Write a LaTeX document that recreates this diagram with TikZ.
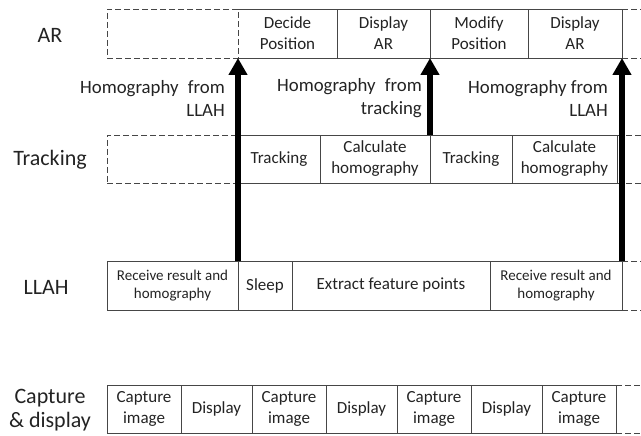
\documentclass[tikz,border=0pt]{standalone}
\usepackage{fontspec}
\setmainfont{Carlito}
\usetikzlibrary{arrows.meta}
\definecolor{linec}{RGB}{70,70,70}
\definecolor{textc}{RGB}{35,35,35}
\begin{document}
\begin{tikzpicture}[x=1pt,y=-1pt,
  cell/.style={draw=linec, line width=0.8pt, inner sep=0pt, outer sep=0pt, align=center, text=textc, font=\fontsize{17}{21}\selectfont},
  smallcell/.style={cell, font=\fontsize{15}{18}\selectfont},
  dashbox/.style={cell, dash pattern=on 6pt off 3pt},
  dashline/.style={draw=linec, line width=0.8pt, dash pattern=on 6pt off 3pt},
  solidline/.style={draw=linec, line width=0.8pt},
  rowlabel/.style={align=center, text=textc, inner sep=0pt, font=\fontsize{22}{24}\selectfont},
  homolabel/.style={align=right, text=textc, inner sep=0pt, anchor=east, font=\fontsize{18.8}{23}\selectfont},
  bigarrow/.style={draw=black, line width=6pt, -{Triangle[length=17pt,width=18pt]}}
]
\useasboundingbox (0,0) rectangle (641,436);

% ---- AR row (9..58)
\node[dashbox, minimum width=131pt, minimum height=49pt] (ardash) at (172.5,33.5) {};
\node[cell, draw=none, minimum width=99pt, minimum height=49pt] (dp) at (287.5,33.5) {Decide\\Position};
\node[cell, minimum width=93pt, minimum height=49pt] (dar1) at (383.5,33.5) {Display\\AR};
\node[cell, minimum width=98pt, minimum height=49pt] (mp) at (479,33.5) {Modify\\Position};
\node[cell, minimum width=94pt, minimum height=49pt] (dar2) at (575,33.5) {Display\\AR};
\draw[solidline] (dp.north west) -- (dp.north east) (dp.south west) -- (dp.south east);
\draw[dashline] (dar2.north east) -- ++(22,0);
\draw[dashline] (dar2.south east) -- ++(22,0);

% ---- Tracking row (135..183)
\node[dashbox, minimum width=131pt, minimum height=48pt] (trdash) at (172.5,159) {};
\node[cell, minimum width=82pt, minimum height=48pt] (tr1) at (279,159) {Tracking};
\node[cell, minimum width=110pt, minimum height=48pt] (ch1) at (375,159) {Calculate\\homography};
\node[cell, minimum width=82pt, minimum height=48pt] (tr2) at (471,159) {Tracking};
\node[cell, minimum width=105pt, minimum height=48pt] (ch2) at (564.5,159) {Calculate\\homography};
\draw[dashline] (ch2.north east) -- ++(27,0);
\draw[dashline] (ch2.south east) -- ++(27,0);

% ---- LLAH row (261..310)
\node[smallcell, minimum width=131pt, minimum height=49pt] (rr1) at (172.5,285.5) {Receive result and\\homography};
\node[cell, minimum width=54pt, minimum height=49pt] (sl) at (265,285.5) {Sleep};
\node[cell, minimum width=198pt, minimum height=49pt] (ef) at (391,285.5) {Extract feature points};
\node[smallcell, minimum width=132pt, minimum height=49pt] (rr2) at (556,285.5) {Receive result and\\homography};
\draw[dashline] (rr2.north east) -- ++(22,0);
\draw[dashline] (rr2.south east) -- ++(22,0);

% ---- Capture & display row (385..433)
\node[cell, minimum width=74pt, minimum height=48pt] (c1) at (144,409) {Capture\\image};
\node[cell, minimum width=71pt, minimum height=48pt] (d1) at (216.5,409) {Display};
\node[cell, minimum width=74pt, minimum height=48pt] (c2) at (289,409) {Capture\\image};
\node[cell, minimum width=71pt, minimum height=48pt] (d2) at (361.5,409) {Display};
\node[cell, minimum width=74pt, minimum height=48pt] (c3) at (434,409) {Capture\\image};
\node[cell, minimum width=71pt, minimum height=48pt] (d3) at (506.5,409) {Display};
\node[cell, minimum width=74pt, minimum height=48pt] (c4) at (579,409) {Capture\\image};
\draw[dashline] (c4.north east) -- ++(28,0);
\draw[dashline] (c4.south east) -- ++(28,0);

% ---- Row labels
\node[rowlabel] (lab-ar) at (50,35) {AR};
\node[rowlabel] (lab-tr) at (50,160) {Tracking};
\node[rowlabel] (lab-llah) at (46,287) {LLAH};
\node[rowlabel] (lab-cap) at (50,410) {Capture\\\& display};

% ---- Homography labels
\node[homolabel] (h1) at (225,98.5) {Homography\hspace{5pt} from\\LLAH};
\node[homolabel] (h2) at (422,98.5) {Homography\hspace{5pt} from\\tracking};
\node[homolabel] (h3) at (608,98.5) {Homography from\\LLAH};

% ---- Arrows
\draw[bigarrow] (rr1.north east) -- (dp.south west);
\draw[bigarrow] (ch1.north east) -- (dar1.south east);
\draw[bigarrow] (rr2.north east) -- (dar2.south east);
\end{tikzpicture}
\end{document}
